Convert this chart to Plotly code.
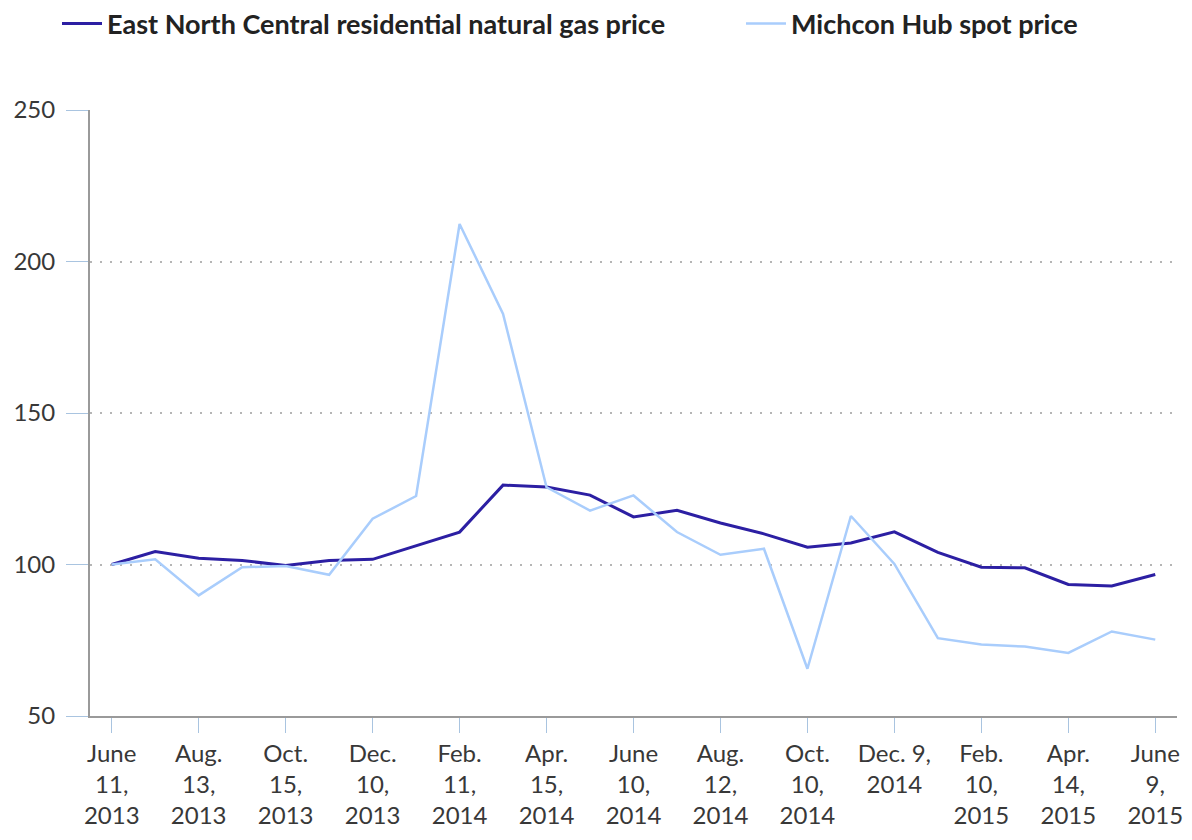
import plotly.graph_objects as go

# Monthly observations, June 2013 .. June 2015 (index, June 2013 = 100)
months = ["2013-06", "2013-07", "2013-08", "2013-09", "2013-10", "2013-11", "2013-12",
          "2014-01", "2014-02", "2014-03", "2014-04", "2014-05", "2014-06", "2014-07",
          "2014-08", "2014-09", "2014-10", "2014-11", "2014-12", "2015-01", "2015-02",
          "2015-03", "2015-04", "2015-05", "2015-06"]

residential = [100, 104.3, 102.1, 101.3, 99.7, 101.3, 101.7, 106.3, 110.7, 126.2, 125.6,
               122.9, 115.7, 117.9, 113.7, 110.1, 105.7, 107.1, 110.8, 104.0, 99.1, 98.9,
               93.4, 92.9, 96.7]

michcon = [100, 101.7, 89.8, 99.1, 99.5, 96.6, 115.1, 122.6, 212.4, 182.7, 125.5, 117.8,
           122.8, 110.7, 103.2, 105.2, 65.6, 116.0, 100.2, 75.7, 73.6, 72.9, 70.8, 77.9, 75.2]

tick_months = months[::2]
tick_labels = ["June<br>11,<br>2013", "Aug.<br>13,<br>2013", "Oct.<br>15,<br>2013",
               "Dec.<br>10,<br>2013", "Feb.<br>11,<br>2014", "Apr.<br>15,<br>2014",
               "June<br>10,<br>2014", "Aug.<br>12,<br>2014", "Oct.<br>10,<br>2014",
               "Dec. 9,<br>2014", "Feb.<br>10,<br>2015", "Apr.<br>14,<br>2015",
               "June<br>9,<br>2015"]

y_ticks = [50, 100, 150, 200, 250]

FONT = "Lato"
W, H = 1184, 832  # page adds an 8px body margin

fig = go.Figure()
fig.add_trace(go.Scatter(x=months, y=residential, mode="lines",
                         name="East North Central residential natural gas price",
                         line=dict(color="#2c1fa3", width=3), legend="legend"))
fig.add_trace(go.Scatter(x=months, y=michcon, mode="lines",
                         name="Michcon Hub spot price",
                         line=dict(color="#a9cdfc", width=2.5), legend="legend2"))

legend_font = dict(family=FONT, size=27, color="#222222", weight="bold")
fig.update_layout(
    width=W, height=H,
    margin=dict(l=82, r=15, t=102, b=124, autoexpand=False),
    paper_bgcolor="white", plot_bgcolor="white",
    font=dict(family=FONT, size=24, color="#383838"),
    legend=dict(orientation="h", xref="container", yref="container",
                x=49 / W, xanchor="left", y=1 - 16 / H, yanchor="middle",
                font=legend_font, itemwidth=40),
    legend2=dict(orientation="h", xref="container", yref="container",
                 x=733 / W, xanchor="left", y=1 - 16 / H, yanchor="middle",
                 font=legend_font, itemwidth=40),
    showlegend=True,
)
fig.update_xaxes(
    type="category", categoryorder="array", categoryarray=months,
    range=[-0.5, 24.5],
    tickmode="array", tickvals=tick_months, ticktext=tick_labels,
    ticks="outside", ticklen=15, tickcolor="#a9c4e0", tickwidth=1,
    showline=True, linecolor="#9a9a9a", linewidth=2,
    showgrid=False, zeroline=False,
    tickfont=dict(family=FONT, size=24, color="#383838"),
)
fig.update_yaxes(
    range=[50, 250], tickmode="array", tickvals=y_ticks,
    ticks="outside", ticklen=22, tickcolor="#a9c4e0", tickwidth=1,
    ticklabelstandoff=6,
    showline=True, linecolor="#9a9a9a", linewidth=2,
    showgrid=True, gridcolor="#b5b5b5", gridwidth=1.5, griddash="2px,8px",
    zeroline=False,
    tickfont=dict(family=FONT, size=24, color="#383838"),
)

fig.write_html("out.html")
